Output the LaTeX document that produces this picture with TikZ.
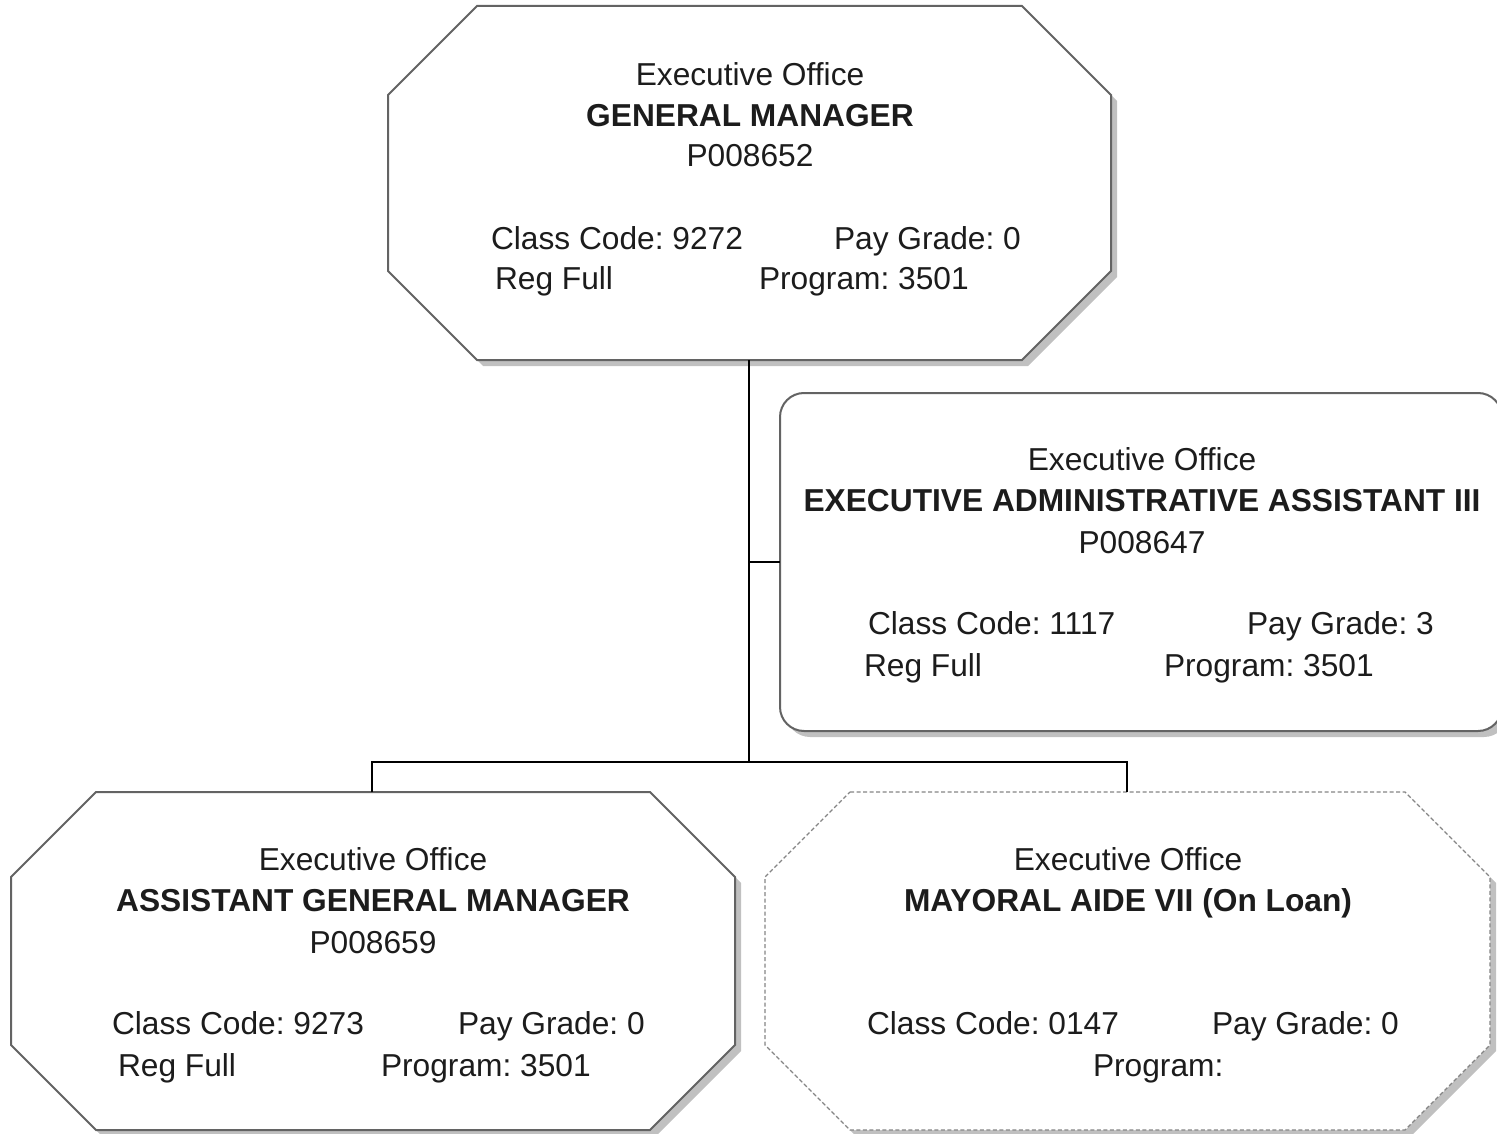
\documentclass[tikz,border=0pt]{standalone}
\usepackage{fontspec}
\setmainfont{Liberation Sans}
\frenchspacing
\definecolor{boxgray}{HTML}{636363}
\definecolor{dashgray}{HTML}{858585}
\definecolor{shadowgray}{HTML}{C0C0C0}
\definecolor{textgray}{HTML}{1C1C1C}
\begin{document}
\begin{tikzpicture}[x=1pt,y=-1pt,
  outline/.style={draw=boxgray, line width=2pt, fill=white, line join=miter},
  dashline/.style={draw=dashgray, line width=1.3pt, dash pattern=on 4pt off 2.5pt, fill=white},
  shade/.style={fill=shadowgray, draw=none},
  conn/.style={draw=black, line width=2.4pt},
  hole/.style={draw=none, inner sep=0pt, outer sep=0pt, rectangle},
  txt/.style={inner sep=0pt, outer sep=0pt, text=textgray, font=\fontsize{31.7}{38}\selectfont},
  boldtxt/.style={txt, font=\fontsize{31.7}{38}\selectfont\bfseries},
  ctr/.style={anchor=base},
  lft/.style={anchor=base west}]
\useasboundingbox (0,0) rectangle (1497,1134);
\clip (0,0) rectangle (1497,1134);

% ---------- shadows ----------
\fill[shade, shift={(6,6)}] (477,6)--(1022,6)--(1111,95)--(1111,271)--(1022,360)--(477,360)--(388,271)--(388,95)--cycle;
\fill[shade, shift={(6,6)}, rounded corners=24pt] (780,393) rectangle (1502,731);
\fill[shade, shift={(6,6)}] (96,792)--(650,792)--(735,877)--(735,1045)--(650,1130)--(96,1130)--(11,1045)--(11,877)--cycle;
\fill[shade, shift={(6,6)}] (850,792)--(1405,792)--(1490,877)--(1490,1045)--(1405,1130)--(850,1130)--(765,1045)--(765,877)--cycle;

% ---------- boxes ----------
\path[outline] (477,6)--(1022,6)--(1111,95)--(1111,271)--(1022,360)--(477,360)--(388,271)--(388,95)--cycle;
\path[outline, rounded corners=24pt] (780,393) rectangle (1502,731);
\path[outline] (96,792)--(650,792)--(735,877)--(735,1045)--(650,1130)--(96,1130)--(11,1045)--(11,877)--cycle;
\path[dashline] (850,792)--(1405,792)--(1490,877)--(1490,1045)--(1405,1130)--(850,1130)--(765,1045)--(765,877)--cycle;

% ---------- named frames ----------
\node[hole, minimum width=723pt, minimum height=354pt] (gm)  at (749,183) {};
\node[hole, minimum width=722pt, minimum height=338pt] (eaa) at (1141,562) {};
\node[hole, minimum width=724pt, minimum height=338pt] (agm) at (372,961) {};
\node[hole, minimum width=725pt, minimum height=338pt] (ma)  at (1127,961) {};
\coordinate (bus) at (749,762);

% ---------- connectors ----------
\draw[conn] (gm.south) -- (bus);
\draw[conn] (eaa.west -| gm.south) -- (eaa.west);
\draw[conn] (agm.north) -- (agm.north |- bus) -- (ma.north |- bus) -- (ma.north);

% ---------- texts: general manager ----------
\node[txt, ctr] (gm1) at (750,86) {Executive Office};
\node[boldtxt, ctr] (gm2) at (750,127) {GENERAL MANAGER};
\node[txt, ctr] (gm3) at (750,167) {P008652};
\node[txt, lft] (gm4) at (491,250) {Class Code: 9272};
\node[txt, lft] (gm5) at (834,250) {Pay Grade: 0};
\node[txt, lft] (gm6) at (495,290) {Reg Full};
\node[txt, lft] (gm7) at (759,290) {Program: 3501};

% ---------- texts: exec admin assistant ----------
\node[txt, ctr] (ea1) at (1142,470) {Executive Office};
\node[boldtxt, ctr] (ea2) at (1142,511) {EXECUTIVE ADMINISTRATIVE ASSISTANT III};
\node[txt, ctr] (ea3) at (1142,553) {P008647};
\node[txt, lft] (ea4) at (868,634) {Class Code: 1117};
\node[txt, lft] (ea5) at (1247,634) {Pay Grade: 3};
\node[txt, lft] (ea6) at (864,676) {Reg Full};
\node[txt, lft] (ea7) at (1164,676) {Program: 3501};

% ---------- texts: assistant general manager ----------
\node[txt, ctr] (ag1) at (373,870) {Executive Office};
\node[boldtxt, ctr] (ag2) at (373,911) {ASSISTANT GENERAL MANAGER};
\node[txt, ctr] (ag3) at (373,953) {P008659};
\node[txt, lft] (ag4) at (112,1034) {Class Code: 9273};
\node[txt, lft] (ag5) at (458,1034) {Pay Grade: 0};
\node[txt, lft] (ag6) at (118,1076) {Reg Full};
\node[txt, lft] (ag7) at (381,1076) {Program: 3501};

% ---------- texts: mayoral aide ----------
\node[txt, ctr] (mb1) at (1128,870) {Executive Office};
\node[boldtxt, ctr] (mb2) at (1128,911) {MAYORAL AIDE VII (On Loan)};
\node[txt, lft] (mb4) at (867,1034) {Class Code: 0147};
\node[txt, lft] (mb5) at (1212,1034) {Pay Grade: 0};
\node[txt, lft] (mb7) at (1093,1076) {Program:};
\end{tikzpicture}
\end{document}
